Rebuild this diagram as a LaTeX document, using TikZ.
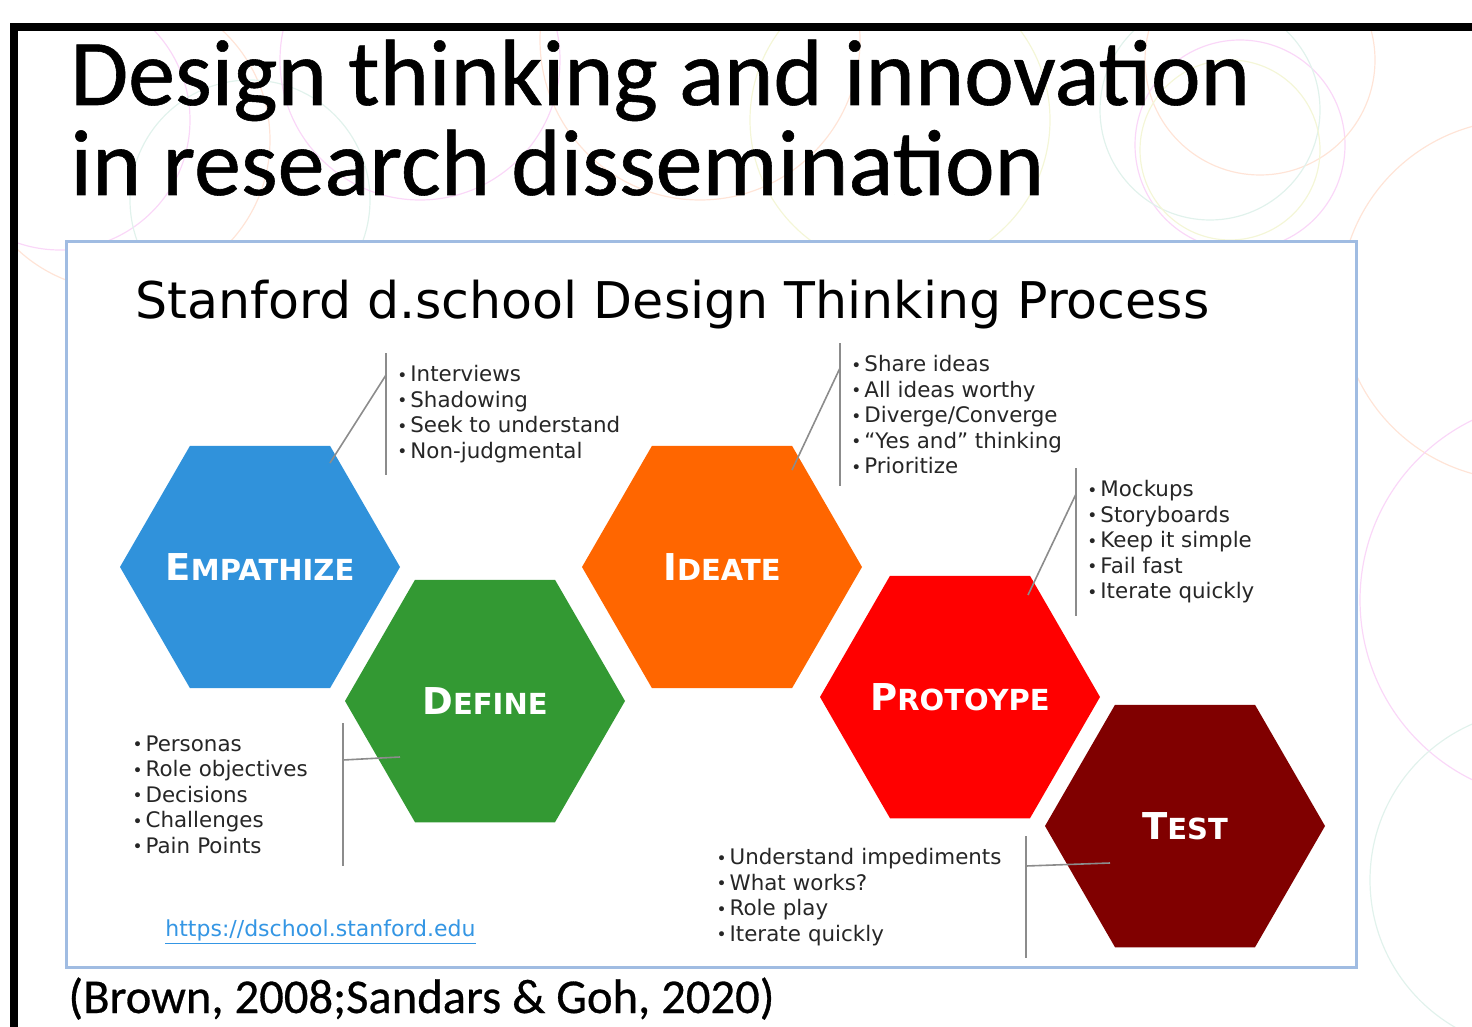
\documentclass[tikz,border=0pt]{standalone}
\usepackage{fontspec}
\setmainfont{DejaVu Sans}
\newfontfamily\handfont{Carlito}[FakeBold=0.6]
\usetikzlibrary{shapes.geometric, positioning, calc}

\definecolor{empblue}{RGB}{48,146,219}
\definecolor{defgreen}{RGB}{51,153,51}
\definecolor{ideorange}{RGB}{255,102,0}
\definecolor{prored}{RGB}{255,0,0}
\definecolor{testred}{RGB}{128,0,0}
\definecolor{frameblue}{RGB}{160,188,226}
\definecolor{linkblue}{RGB}{52,150,228}
\definecolor{calloutgray}{RGB}{140,140,140}
\definecolor{ringpink}{RGB}{250,215,248}
\definecolor{ringpeach}{RGB}{255,228,215}
\definecolor{ringmint}{RGB}{225,242,236}
\definecolor{ringlemon}{RGB}{244,246,215}

\newcommand{\bul}{\makebox[6.5pt][l]{\raisebox{0.2pt}{\fontsize{8.5}{8.5}\selectfont •}}}
\newcommand{\stagename}[2]{\makebox[0pt]{{\fontsize{18.5}{20}\selectfont #1}{\fontsize{14.5}{16}\selectfont #2}}}

\begin{document}
\begin{tikzpicture}[x=0.5pt, y=-0.5pt,
    hexstage/.style={regular polygon, regular polygon sides=6, minimum size=140pt,
        inner sep=0pt, outer sep=0pt, text=white, font=\bfseries},
    notes/.style={font=\fontsize{10.7}{12.75}\selectfont, align=left, text=black!85,
        inner xsep=5.5pt, inner ysep=6pt},
    bar/.style={calloutgray, line width=1pt},
    callout/.style={calloutgray, line width=0.8pt}]
    \useasboundingbox (0,0) rectangle (1472,1027);

    % faint rings behind the slide
    \begin{scope}
        \clip (18,31) rectangle (1472,1027);
        \foreach \cx/\cy/\r/\c in {120/140/150/ringpeach, 60/120/130/ringpink,
            250/200/120/ringmint, 420/60/140/ringpink, 700/40/160/ringpeach,
            900/120/150/ringlemon, 1240/145/105/ringpink, 1260/60/115/ringpeach,
            1210/110/110/ringmint, 1230/150/90/ringlemon, 1520/300/180/ringpeach,
            1560/600/200/ringpink, 1540/880/170/ringmint}
            \draw[\c, line width=0.6pt] (\cx,\cy) circle (\r);
    \end{scope}

    \draw[line width=4pt, miter limit=10] (14,1027) -- (14,27) -- (1472,27);

    \node[anchor=base west, font=\handfont\fontsize{47}{47}\selectfont, inner sep=0pt] (title1) at (70,105) {Design thinking and innovation};
    \node[anchor=base west, font=\handfont\fontsize{47}{47}\selectfont, inner sep=0pt] (title2) at (70,195) {in research dissemination};

    \draw[frameblue, line width=1.5pt, fill=white] (66,242) rectangle (1356,967);

    \node[anchor=base west, font=\fontsize{25.3}{25.3}\selectfont, inner sep=0pt] (head) at (135,318) {Stanford d.school Design Thinking Process};

    \node[hexstage, fill=empblue] (emp) at (260,567) {\stagename{E}{MPATHIZE}};
    \node[hexstage, fill=defgreen] (def) at (485,701) {\stagename{D}{EFINE}};
    \node[hexstage, fill=ideorange] (ide) at (722,567) {\stagename{I}{DEATE}};
    \node[hexstage, fill=prored] (pro) at (960,697) {\stagename{P}{ROTOYPE}};
    \node[hexstage, fill=testred] (tst) at (1185,826) {\stagename{T}{EST}};

    \node[notes, anchor=north west] (empNotes) at (386,353)
        {\bul Interviews\\ \bul Shadowing\\ \bul Seek to understand\\ \bul Non-judgmental};
    \node[notes, anchor=north west] (ideNotes) at (840,343)
        {\bul Share ideas\\ \bul All ideas worthy\\ \bul Diverge/Converge\\ \bul “Yes and” thinking\\ \bul Prioritize};
    \node[notes, anchor=north west] (proNotes) at (1076,468)
        {\bul Mockups\\ \bul Storyboards\\ \bul Keep it simple\\ \bul Fail fast\\ \bul Iterate quickly};
    \node[notes, anchor=north east, text width=99.5pt] (defNotes) at (343,723)
        {\bul Personas\\ \bul Role objectives\\ \bul Decisions\\ \bul Challenges\\ \bul Pain Points};
    \node[notes, anchor=north east, text width=149pt] (tstNotes) at (1026,836)
        {\bul Understand impediments\\ \bul What works?\\ \bul Role play\\ \bul Iterate quickly};

    \draw[bar] (empNotes.north west) -- (empNotes.south west);
    \draw[bar] (ideNotes.north west) -- (ideNotes.south west);
    \draw[bar] (proNotes.north west) -- (proNotes.south west);
    \draw[bar] (defNotes.north east) -- (defNotes.south east);
    \draw[bar] (tstNotes.north east) -- (tstNotes.south east);

    \draw[callout] ($(emp)+(70,-104)$) -- ($(empNotes.north west)+(0,22)$);
    \draw[callout] ($(ide)+(70,-97)$) -- ($(ideNotes.north west)+(0,25)$);
    \draw[callout] ($(pro)+(68,-102)$) -- ($(proNotes.north west)+(0,26)$);
    \draw[callout] ($(defNotes.north east)+(0,37)$) -- ($(def)+(-85,56)$);
    \draw[callout] ($(tstNotes.north east)+(0,30)$) -- ($(tst)+(-75,37)$);

    \node[anchor=base west, font=\fontsize{11}{11}\selectfont, text=linkblue, inner sep=0pt] (link) at (165,936) {\underline{https://dschool.stanford.edu}};

    \node[anchor=base west, font=\handfont\fontsize{24.3}{24.3}\selectfont, inner sep=0pt] (cite) at (68,1013) {(Brown, 2008;Sandars \& Goh, 2020)};
\end{tikzpicture}
\end{document}
